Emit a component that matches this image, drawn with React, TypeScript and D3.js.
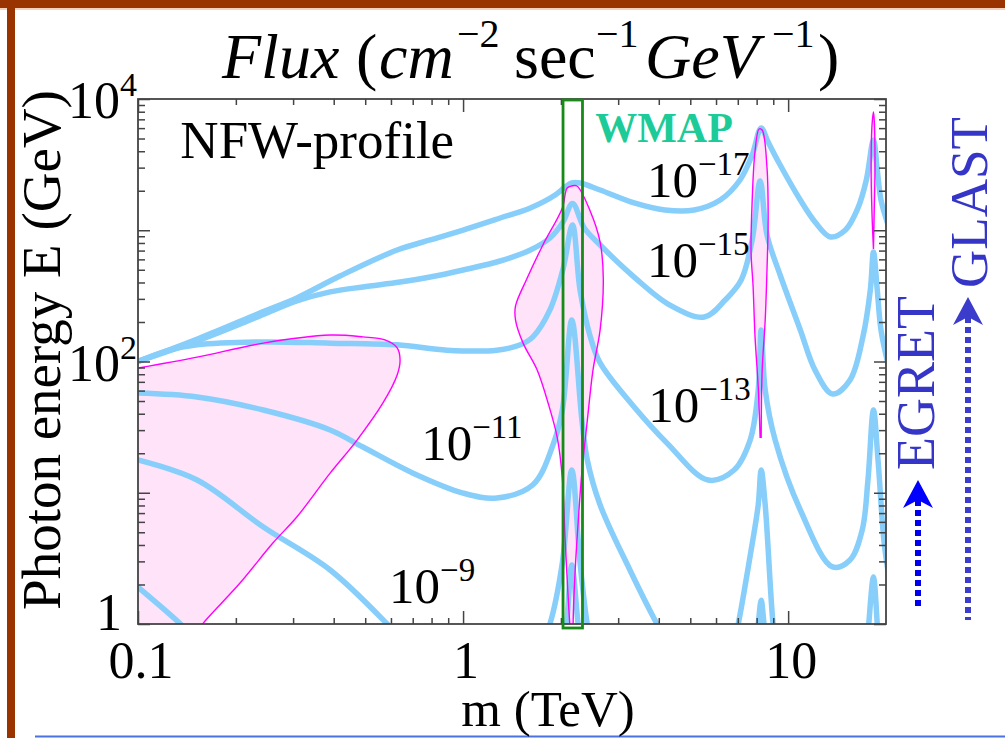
import React, { useEffect, useRef } from 'react';
import * as d3 from 'd3';

type Pt = [number, number];

// iso-flux contours, points are [m (TeV), E (GeV)]
const contourA: Pt[] = [
  [0.1, 100], [0.155, 151], [0.237, 234], [0.308, 305], [0.418, 448], [0.627, 707], [0.792, 843],
  [1, 1004], [1.3, 1240], [1.61, 1479], [1.92, 1857], [2.06, 2137], [2.16, 2291], [2.29, 2291],
  [2.64, 2026], [3.36, 1614], [4.18, 1427], [5.14, 1427], [6.18, 1700], [7.11, 2415], [7.75, 3743],
  [8.26, 6013], [8.68, 4700], [9.45, 3141], [10.9, 1700], [12.1, 1156], [13.5, 889], [15.0, 1004],
  [16.4, 1479], [17.4, 2415], [18.3, 4870], [18.8, 2877], [19.3, 1700], [20.3, 1100],
];
const contourB: Pt[] = [
  [0.1, 100], [0.155, 146], [0.237, 222], [0.308, 289], [0.39, 339], [0.492, 370], [0.64, 403],
  [0.792, 440], [1, 498], [1.3, 583], [1.61, 707], [1.85, 873], [2.03, 1156], [2.17, 1600],
  [2.36, 1040], [2.64, 772], [3.36, 440], [4.33, 269], [5.52, 218], [6.4, 294], [7.17, 418],
  [7.75, 843], [8.2, 2373], [8.61, 920], [9.45, 456], [10.9, 174], [12.1, 86], [13.7, 56.5],
  [15.5, 72.3], [17.0, 156], [17.9, 351], [18.3, 683], [18.8, 351], [19.3, 174], [20.3, 95],
];
const contourC: Pt[] = [
  [0.1, 100], [0.125, 122], [0.152, 134], [0.243, 141], [0.39, 138], [0.627, 134], [0.893, 122],
  [1.27, 122], [1.5, 134], [1.64, 154], [1.85, 247], [2.03, 507], [2.17, 1096], [2.29, 351],
  [2.46, 156], [2.64, 97.5], [3.36, 45], [4.24, 23.9], [5.67, 12.5], [6.82, 14.9], [7.64, 25.2],
  [8.09, 60.7], [8.26, 174], [8.5, 60.7], [9.12, 25.2], [10.9, 7.39], [13.7, 2.72], [15.5, 3.07],
  [16.9, 5.2], [17.6, 12.5], [18.3, 42.7], [18.9, 17.8], [19.7, 4.37], [20.3, 2.5],
];
const contourD: Pt[][] = [
  [[0.1, 57.5], [0.152, 53.7], [0.243, 42.7], [0.39, 30.1], [0.492, 22.3], [0.702, 14.1], [1, 9.95],
   [1.27, 9.12], [1.64, 11.5], [1.89, 23.1], [2.02, 42.7], [2.16, 207], [2.32, 35.8], [2.41, 17.8],
   [2.64, 8.07], [3.26, 2.58], [3.95, 1], [4.1, 0.85]],
  [[6.9, 0.85], [7.02, 1], [7.64, 3.3], [8.09, 8.07], [8.26, 14.9], [8.5, 8.07], [8.99, 1], [9.1, 0.85]],
  [[17.6, 0.85], [17.7, 1], [18.3, 2.28], [18.8, 1], [18.9, 0.85]],
];
const contourE: Pt[][] = [
  [[0.1, 17.8], [0.152, 12.5], [0.243, 5.48], [0.39, 2.58], [0.584, 1], [0.62, 0.85]],
  [[1.8, 0.85], [1.85, 1], [2.02, 2.92], [2.16, 14.9], [2.29, 2.92], [2.41, 1], [2.45, 0.85]],
  [[8.0, 0.85], [8.09, 1], [8.26, 1.52], [8.43, 1], [8.5, 0.85]],
];
const contourF: Pt[][] = [
  [[0.1, 1.91], [0.135, 1], [0.14, 0.9]],
  [[2.05, 0.85], [2.08, 1], [2.16, 2.82], [2.26, 1], [2.29, 0.85]],
];

// allowed (pink) regions
const regionLow: Pt[] = [
  [0.1, 89.2], [0.152, 108], [0.243, 138], [0.39, 159], [0.492, 154], [0.575, 146], [0.627, 127],
  [0.64, 103], [0.627, 78.9], [0.567, 48.3], [0.472, 25.2], [0.39, 14.1], [0.308, 6.53],
  [0.26, 4.14], [0.206, 2.05], [0.158, 1], [0.154, 0.9],
];
const regionWmap: Pt[] = [
  [2.14, 0.9], [2.13, 1], [2.06, 4.44], [2.02, 12.9], [1.95, 26.1], [1.83, 47.4], [1.69, 86.1],
  [1.53, 138], [1.45, 207], [1.45, 265], [1.57, 425], [1.76, 772], [2.02, 1479], [2.09, 2099],
  [2.16, 2174], [2.24, 2174], [2.46, 1403], [2.64, 813], [2.7, 425], [2.64, 174], [2.51, 86.1],
  [2.41, 35.2], [2.32, 14.4], [2.26, 5.98], [2.21, 2.45], [2.18, 1], [2.18, 0.9],
];
const regionPeak8: Pt[] = [
  [8.2, 26.1], [8.09, 63.9], [7.91, 154], [7.8, 376], [7.69, 683], [7.75, 1671], [7.91, 4018],
  [8.14, 5906], [8.32, 5803], [8.61, 2980], [8.68, 1240], [8.61, 507], [8.5, 207], [8.32, 86.1],
  [8.26, 26.1],
];
const regionPeak18: Pt[] = [
  [18.3, 720], [18.1, 1403], [18.0, 2980], [18.1, 6120], [18.3, 7960], [18.4, 6920], [18.5, 2980],
  [18.4, 1403], [18.3, 720],
];

const wmapBand = [2.03, 2.33];

const fluxExponents = ['\u221217', '\u221215', '\u221213', '\u221211', '\u22129'];
const fluxLabelAt: Pt[] = [[3.68, 1792], [3.68, 440], [3.71, 34.6], [0.743, 17.8], [0.592, 1.45]];

const xLabelValues = [0.1, 1, 10];
const xLabelText = ['0.1', '1', '10'];
const yLabelValues = [10000, 100, 1];
const yLabelBase = ['10', '10', '1'];
const yLabelSup = ['4', '2', ''];

const serif = "'Liberation Serif', 'Times New Roman', serif";

export default function App() {
  const ref = useRef<SVGSVGElement>(null);

  useEffect(() => {
    const W = 1005, H = 738;
    const left = 138, right = 886, top = 99, bottom = 624;
    const svg = d3.select(ref.current);
    svg.selectAll('*').remove();

    const x = d3.scaleLog().domain([0.1, 20]).range([left, right]);
    const y = d3.scaleLog().domain([1, 1e4]).range([bottom, top]);

    svg.append('rect').attr('width', W).attr('height', H).attr('fill', '#fff');

    // page decoration
    svg.append('rect').attr('x', 0).attr('y', 0).attr('width', W).attr('height', 8).attr('fill', '#993300');
    svg.append('rect').attr('x', 0).attr('y', 8).attr('width', W).attr('height', 2).attr('fill', '#f6d2bc');
    svg.append('rect').attr('x', 7).attr('y', 0).attr('width', 8).attr('height', H).attr('fill', '#993300');
    svg.append('line').attr('x1', 35).attr('x2', W).attr('y1', 736.5).attr('y2', 736.5)
      .attr('stroke', '#4a72e0').attr('stroke-width', 2);

    svg.append('defs').append('clipPath').attr('id', 'plotclip')
      .append('rect').attr('x', left).attr('y', top).attr('width', right - left).attr('height', bottom - top);
    const plot = svg.append('g').attr('clip-path', 'url(#plotclip)');

    const line = d3.line<Pt>().x(d => x(d[0])).y(d => y(d[1])).curve(d3.curveCatmullRom.alpha(0.5));

    const lowPath = line(regionLow) + `L${x(0.09)},${y(0.9)}L${x(0.09)},${y(regionLow[0][1])}Z`;
    const regions = [regionWmap, regionPeak8, regionPeak18];

    plot.append('path').attr('d', lowPath).attr('fill', '#ffe3f9');
    regions.forEach(r => plot.append('path').attr('d', line(r) + 'Z').attr('fill', '#ffe3f9'));

    const lines: Pt[][] = [contourA, contourB, contourC, ...contourD, ...contourE, ...contourF];
    lines.forEach(c => plot.append('path').attr('d', line(c)).attr('fill', 'none')
      .attr('stroke', '#87cefa').attr('stroke-width', 5.5).attr('stroke-linejoin', 'round').attr('stroke-linecap', 'round'));

    plot.append('path').attr('d', line(regionLow)).attr('fill', 'none').attr('stroke', '#ff00ff').attr('stroke-width', 1.4);
    regions.forEach(r => plot.append('path').attr('d', line(r)).attr('fill', 'none')
      .attr('stroke', '#ff00ff').attr('stroke-width', 1.4));

    // frame and ticks (inward, on all sides)
    const xMinor = [2, 3, 4, 5, 6, 7, 8, 9].flatMap(k => [k * 0.1, k, k * 10]).filter(v => v < 20);
    const yMinor = [2, 3, 4, 5, 6, 7, 8, 9].flatMap(k => [k, k * 10, k * 100, k * 1000]);
    const xMaj = [0.1, 1, 10];
    const yMaj = [1, 10, 100, 1000, 10000];
    const axes = svg.append('g').attr('color', '#444');
    const addAxis = (gen: any, tr: string) => {
      const g = axes.append('g').attr('transform', tr).call(gen);
      g.select('.domain').remove();
      g.selectAll('text').remove();
      g.selectAll('line').attr('stroke-width', 1.5);
    };
    addAxis(d3.axisBottom(x).tickValues(xMaj).tickSize(-13), `translate(0,${bottom})`);
    addAxis(d3.axisBottom(x).tickValues(xMinor).tickSize(-6), `translate(0,${bottom})`);
    addAxis(d3.axisTop(x).tickValues(xMaj).tickSize(-13), `translate(0,${top})`);
    addAxis(d3.axisTop(x).tickValues(xMinor).tickSize(-6), `translate(0,${top})`);
    addAxis(d3.axisLeft(y).tickValues(yMaj).tickSize(-12), `translate(${left},0)`);
    addAxis(d3.axisLeft(y).tickValues(yMinor).tickSize(-7), `translate(${left},0)`);
    addAxis(d3.axisRight(y).tickValues(yMaj).tickSize(-12), `translate(${right},0)`);
    addAxis(d3.axisRight(y).tickValues(yMinor).tickSize(-7), `translate(${right},0)`);
    svg.append('rect').attr('x', left).attr('y', top).attr('width', right - left).attr('height', bottom - top)
      .attr('fill', 'none').attr('stroke', '#444').attr('stroke-width', 1.8);

    // WMAP band
    svg.append('rect').attr('x', x(wmapBand[0])).attr('y', top + 1)
      .attr('width', x(wmapBand[1]) - x(wmapBand[0])).attr('height', bottom - top + 3)
      .attr('fill', 'none').attr('stroke', '#178a17').attr('stroke-width', 2.8);

    const txt = svg.append('g').attr('font-family', serif).attr('fill', '#000');

    // tick labels
    xLabelValues.forEach((v, i) => {
      txt.append('text').attr('x', x(v) + 3).attr('y', 678).attr('text-anchor', 'middle')
        .attr('font-size', 52).text(xLabelText[i]);
    });
    yLabelValues.forEach((v, i) => {
      const t = txt.append('text').attr('x', yLabelSup[i] ? 137 : 122).attr('y', y(v) + (v === 1 ? 6 : 19))
        .attr('text-anchor', 'end').attr('font-size', 52);
      t.append('tspan').text(yLabelBase[i]);
      if (yLabelSup[i]) t.append('tspan').attr('dy', -22).attr('font-size', 34).text(yLabelSup[i]);
    });

    // axis titles
    txt.append('text').attr('x', 548).attr('y', 726).attr('text-anchor', 'middle').attr('font-size', 51).text('m (TeV)');
    txt.append('text').attr('transform', 'translate(60,350) rotate(-90)').attr('text-anchor', 'middle')
      .attr('font-size', 55).text('Photon energy E (GeV)');

    // title
    const title = txt.append('text').attr('y', 78).attr('font-size', 64);
    const parts: [string, number, string][] = [
      ['Flux', 222, 'i'], ['(', 356, 'n'], ['cm', 379, 'i'], ['\u22122', 457, 's'], ['sec', 514, 'n'],
      ['\u22121', 596, 's'], ['GeV', 645, 'i'], ['\u22121', 772, 's'], [')', 818, 'n'],
    ];
    parts.forEach(([s, px, k]) => {
      title.append('tspan').attr('x', px).attr('y', k === 's' ? 47 : 78)
        .attr('font-size', k === 's' ? 40 : 64).attr('font-style', k === 'i' ? 'italic' : 'normal').text(s);
    });

    // annotations
    txt.append('text').attr('x', x(0.135)).attr('y', y(3548)).attr('font-size', 53).text('NFW-profile');
    txt.append('text').attr('x', x(2.55)).attr('y', y(4700)).attr('font-size', 42).attr('font-weight', 'bold')
      .attr('fill', '#1ccb97').text('WMAP');
    fluxExponents.forEach((e, i) => {
      const [m, E] = fluxLabelAt[i];
      const t = txt.append('text').attr('x', x(m)).attr('y', y(E)).attr('font-size', 51);
      t.append('tspan').text('10');
      t.append('tspan').attr('dy', -22).attr('font-size', 33).text(e);
    });

    // experiment sensitivity arrows
    const arrow = (cx: number, tipY: number, endY: number, lineColor: string, headColor: string) => {
      svg.append('line').attr('x1', cx).attr('x2', cx).attr('y1', tipY + 20).attr('y2', endY)
        .attr('stroke', lineColor).attr('stroke-width', 6).attr('stroke-dasharray', '6 4');
      svg.append('path')
        .attr('d', `M${cx},${tipY}L${cx + 15},${tipY + 28}L${cx},${tipY + 20}L${cx - 15},${tipY + 28}Z`)
        .attr('fill', headColor);
    };
    arrow(918, 480, 610, '#0000ee', '#0000ff');
    arrow(968, 297, 620, '#3b3bcc', '#3b3bcc');
    txt.append('text').attr('transform', 'translate(934,470) rotate(-90)').attr('font-size', 54)
      .attr('fill', '#3535c8').text('EGRET');
    txt.append('text').attr('transform', 'translate(987,288) rotate(-90)').attr('font-size', 53)
      .attr('fill', '#3535c8').text('GLAST');
  }, []);

  return (
    <div style={{ position: 'absolute', left: 0, top: 0 }}>
      <svg ref={ref} width={1005} height={738} style={{ display: 'block' }} />
    </div>
  );
}
